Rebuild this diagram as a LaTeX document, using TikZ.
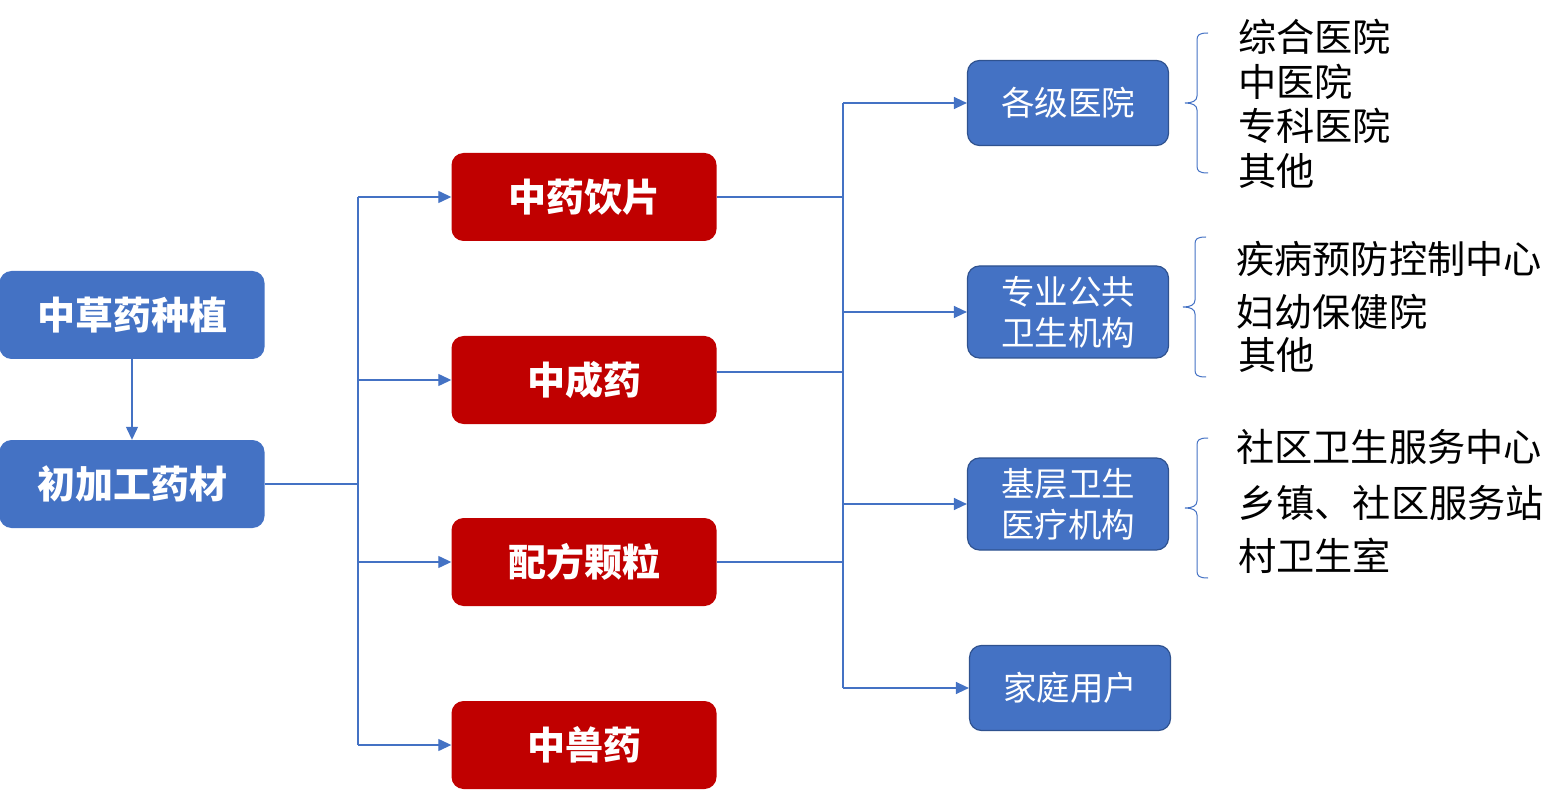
\documentclass[tikz,border=0pt]{standalone}
\usepackage{fontspec}
\usetikzlibrary{arrows.meta}
\newfontfamily\cjk{Noto Sans CJK SC}
\definecolor{boxblue}{HTML}{4472C4}
\definecolor{edgeblue}{HTML}{2F528F}
\definecolor{boxred}{HTML}{C00000}
\tikzset{
  srcbox/.style={fill=boxblue, rounded corners=12pt, minimum width=265pt, minimum height=88pt,
    text=white, font=\cjk\bfseries\fontsize{38}{40}\selectfont},
  drugbox/.style={srcbox, fill=boxred},
  userbox/.style={fill=boxblue, draw=edgeblue, line width=1.2pt, rounded corners=12pt,
    minimum width=201pt, text=white, align=center, font=\cjk\fontsize{33.5}{41}\selectfont},
  link/.style={draw=boxblue, line width=1.3pt},
  arrow/.style={link, -{Triangle[length=13pt,width=12pt]}},
  item/.style={anchor=west, inner sep=0pt, font=\cjk\fontsize{38.2}{40}\selectfont},
  brace/.style={draw=boxblue, line width=1pt}
}
% left brace: x of the stem, top, tip, bottom
\newcommand{\listbrace}[4]{%
  \draw[brace] (#1+11,#2) .. controls (#1+2,#2) and (#1,#2+2) .. (#1,#2+7)
    -- (#1,#3-7) .. controls (#1,#3-2) and (#1-5,#3) .. (#1-12,#3)
    .. controls (#1-5,#3) and (#1,#3+2) .. (#1,#3+7)
    -- (#1,#4-7) .. controls (#1,#4-2) and (#1+2,#4) .. (#1+11,#4);}

\begin{document}
\begin{tikzpicture}[x=1pt, y=-1pt]
  \useasboundingbox (0,0) rectangle (1566,791);

  % source side
  \node[srcbox] (plant) at (132,315) {中草药种植};
  \node[srcbox] (raw) at (132,484) {初加工药材};

  % products
  \node[drugbox] (yinpian) at (584,197) {中药饮片};
  \node[drugbox] (chengyao) at (584,380) {中成药};
  \node[drugbox] (peifang) at (584,562) {配方颗粒};
  \node[drugbox] (shouyao) at (584,745) {中兽药};

  % users
  \node[userbox, minimum height=85pt] (hosp) at (1068,103) {各级医院};
  \node[userbox, minimum height=92pt] (public) at (1068,312) {专业公共\\卫生机构};
  \node[userbox, minimum height=92pt] (grass) at (1068,504) {基层卫生\\医疗机构};
  \node[userbox, minimum height=85pt] (home) at (1070,688) {家庭用户};

  \coordinate (split) at (358,484);
  \coordinate (bus) at (843,400);

  % connectors
  \draw[arrow] (plant) -- (raw);
  \draw[link] (raw.east) -- (split);
  \draw[link] (split |- yinpian.west) -- (split |- shouyao.west);
  \draw[arrow] (split |- yinpian.west) -- (yinpian.west);
  \draw[arrow] (split |- chengyao.west) -- (chengyao.west);
  \draw[arrow] (split |- peifang.west) -- (peifang.west);
  \draw[arrow] (split |- shouyao.west) -- (shouyao.west);

  \draw[link] (yinpian.east) -- (yinpian.east -| bus);
  \draw[link] ([yshift=8pt]chengyao.east) -- ([yshift=8pt]chengyao.east -| bus);
  \draw[link] (peifang.east) -- (peifang.east -| bus);
  \draw[link] (bus |- hosp.west) -- (bus |- home.west);
  \draw[arrow] (bus |- hosp.west) -- (hosp.west);
  \draw[arrow] (bus |- public.west) -- (public.west);
  \draw[arrow] (bus |- grass.west) -- (grass.west);
  \draw[arrow] (bus |- home.west) -- (home.west);

  % lists
  \listbrace{1197}{33}{103}{173}
  \node[item] (h1) at (1238,37) {综合医院};
  \node[item] (h2) at (1238,82) {中医院};
  \node[item] (h3) at (1238,126) {专科医院};
  \node[item] (h4) at (1238,171) {其他};

  \listbrace{1195}{237}{307}{377}
  \node[item] (p1) at (1236,259) {疾病预防控制中心};
  \node[item] (p2) at (1236,312) {妇幼保健院};
  \node[item] (p3) at (1238,355) {其他};

  \listbrace{1197}{438}{508}{578}
  \node[item] (g1) at (1236,447) {社区卫生服务中心};
  \node[item] (g2) at (1238,503) {乡镇、社区服务站};
  \node[item] (g3) at (1238,556) {村卫生室};
\end{tikzpicture}
\end{document}
